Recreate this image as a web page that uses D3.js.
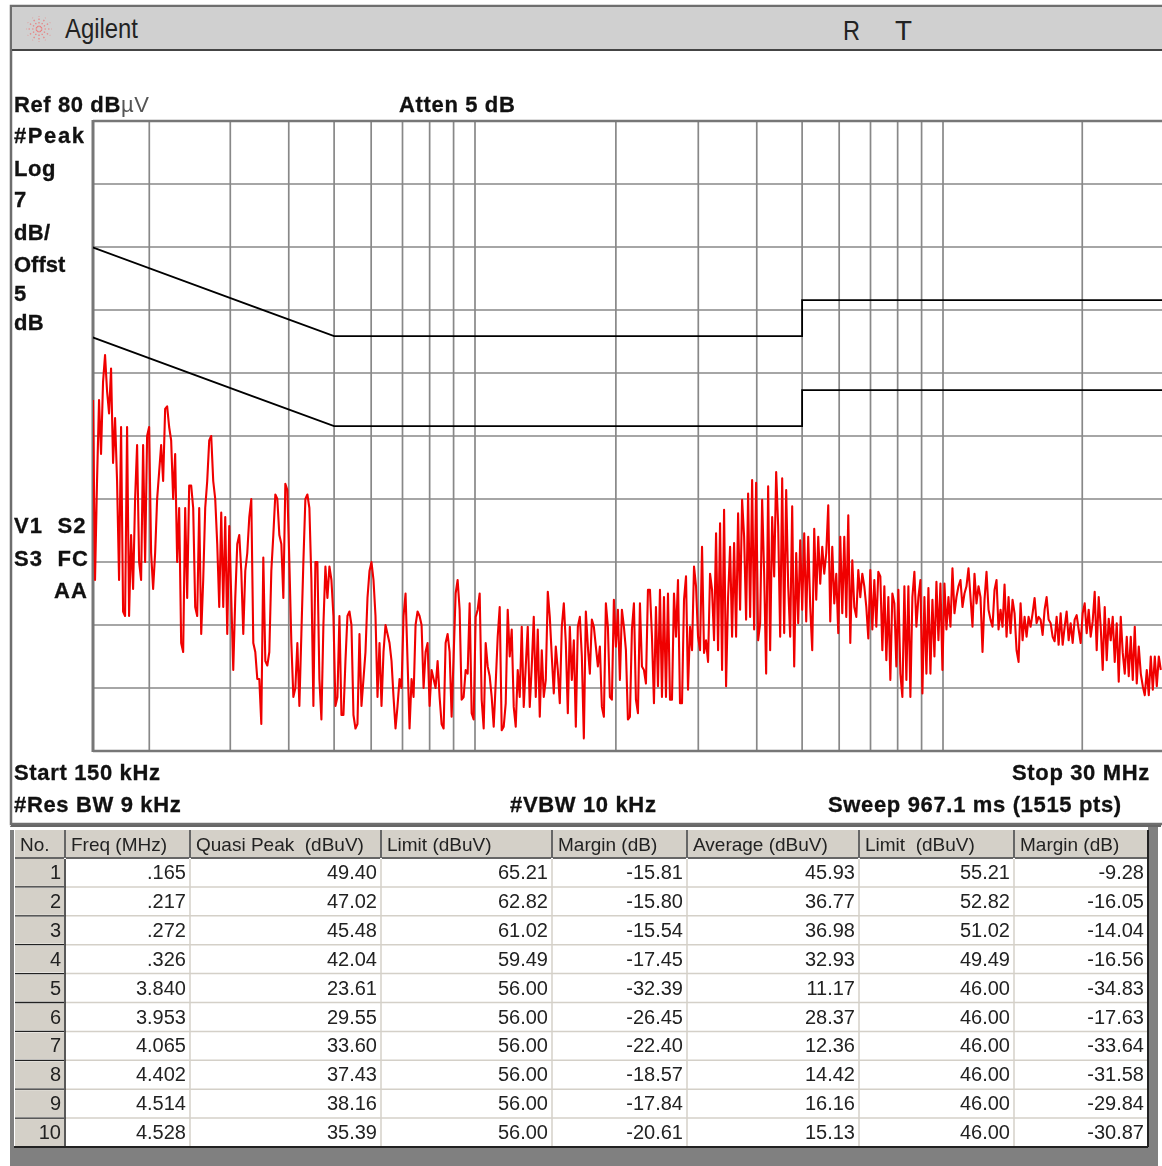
<!DOCTYPE html>
<html>
<head>
<meta charset="utf-8">
<script src="https://cdnjs.cloudflare.com/ajax/libs/d3/7.8.5/d3.min.js"></script>
<style>
html, body { margin: 0; padding: 0; background: #fff; overflow: hidden; }
svg { display: block; filter: blur(0.45px); }
.bold { font-family: "Liberation Sans", Arial, sans-serif; font-weight: bold; font-size: 22px; fill: #111; stroke: #111; stroke-width: 0.3px; }
.cell { font-family: "Liberation Sans", Arial, sans-serif; font-size: 20px; fill: #222; }
.headtext { font-size: 19px; }
.title { font-family: "Liberation Sans", Arial, sans-serif; font-size: 28px; fill: #222; }
</style>
</head>
<body>
<div id="chart"></div>
<script>
//spectrum analyser settings
var startMHz = 0.15, stopMHz = 30;
var refLevel = 80, dbPerDiv = 7, divisions = 10;
var gridFreqs = [0.2014, 0.3, 0.4, 0.5, 0.6, 0.7, 0.8, 0.9, 1, 2, 3, 4, 5, 6, 7, 8, 9, 10, 19.84];

//limit lines, dBuV
var limitFreqs = [0.15, 0.5, 5, 5, 30];
var quasiPeakLimit = [66, 56, 56, 60, 60];
var averageLimit = [56, 46, 46, 50, 50];

//trace, one value per step of a log-spaced sweep
var traceFirstMHz = 0.1527, traceLastMHz = 29.2;
var traceLow = [
	49,29,40,49,43,51,54,50,47.5,52.5,42,47,40,29,46,25.5,25,46,25,34,28,38,44,31,29,44,31,45,46,32,
	28,32,38,41,44,40,48,48.3,46,44.5,38,43,31,37,22,21,37,27,39.5,39.5,37,26,25,37,23,29,37,40,44.5,45,
	40,38,33,26,36.5,26,36,23,35,27,19,27,33,34,30,23,30,32,36,38,22,21,18,18,13,31.5,20,19.5,21,30,
	34,38.5,38,34,33,27,39.7,39,31,22,16,17,22,15,23,31,38,38.5,37,29,15,31,31,18,13.5,24,30.5,27,30.5,29,
	25,15,16,25,14,14,20,25,25.5,24,14,12.5,13,23,15,18,21,27,30,31,29,25,16,22,15,21,24,23,22,20,
	16,12.5,15,18,17,25,27.5,20,12.5,18,16,24,25.5,25,24,17,21,22,15,19,18,17,20,16,13,12.5,22,23,21
];
var traceMid = [
	13.8,20.5,27.5,29,25.7,15.7,16,19,18.6,26.4,14.2,13.5,24.9,25.7,27.5,15.7,12.5,22,19.4,18.3,16,12.7,17.5,22.7,26,12.3,12.7,15.3,25.7,20.5,
	23.5,14.9,12.7,19,16,23.8,14.9,19.4,23.8,14.9,19.4,24.9,16,23.5,13.8,21.2,16,17.9,27.7,24.9,20.5,16.4,21.6,19,15.3,23.8,26.4,22,14.2,23.8,
	17.9,22.3,12.7,23.8,24.9,20.5,11.4,25.5,21.6,18.6,24.6,23.8,21.6,19.4,21.6,14.9,13.8,26.4,23.8,16,15.7,26.8,21.6,25.7,17.9,25.7,23.8,21.2,13.5,13.8,
	23.5,26.4,15.7,14.2,26.4,19.4,19,17.5,27.9,27.9,22.7,15.3,26,17.2,27.9,16,27.1,16,27.5,15.7,15.7,27.5,22.7,29,15.3,15.3,26.8,29.4,16.8,23.8,21.2,30.5,
	28.3,22.7,21.2,32.7,20.9,22.3,19.9,29.7,27.9,22.3,34.2,21.2,35.3,19,36.8,17.2,27.1,32.7,22.7,33.1,22.7,36.4,25.7,37.9,33.8,24.6,38.6,24.9,40.1,23.5,
	39.8,22.3,24.2,37.9,29.7,18.6,39.4,21.2,36,29.4,41,35,22.7,40.3,23.1,39,28.3,22.7,37.2,19.4,32,24.2
];
var traceHigh = [
	33.4,25.7,34.2,24.4,33.8,26,21.2,34.7,26.8,33.8,28.6,32.7,29.7,32,37.3,24.4,32.7,26.4,29.7,23.1,33.8,25.3,33.8,24.9,36.2,22,31.2,26,24.9,30.1,
	27.1,29.7,28.3,26,22.5,30.1,23.5,29,23.8,29.9,29.4,21.2,28.3,20.1,27.1,17.9,27.5,26.4,19.4,27.9,18.6,16,28.3,17.9,28.3,16,27.1,29.9,23.8,27.1,
	29,16.4,27.1,18.6,28.1,18.6,26.8,20.5,28.8,22.3,28.6,19,28.6,23.5,27.1,23.8,30.3,25.3,27.1,28.3,29,26,27.5,28.3,30.3,27.1,23.8,29.7,26.4,28.3,
	27.1,21,26.8,29.9,25.7,24.6,23.8,27.9,29,23.5,25.7,23.8,28.5,22.7,27.1,23.1,26.8,25.3,21.2,19.9,26.4,22.3,24.9,22.7,24.9,23.8,25.3,27,24.2,24.9,
	24.6,22.9,25.7,27.1,24.6,24.2,22.7,22.2,24.9,21.8,25.3,21.8,23.8,25.5,22.3,24.2,22,24.6,25.1,23.5,22,25.3,26.4,23.1,25.7,22.7,24.4,27.7,21.2,27.1,
	23.8,19,26,20.1,24.7,22.3,24.9,19.9,24.2,17.7,24.9,20.9,18.6,22.7,18.3,22.7,17.9,23.8,17.5,21.6,18.6,17.2,16.2,19,16.2,20.5,16.8,20.5,17.2,20.5,19
];
var traceDb = traceLow.concat(traceMid, traceHigh);

//side and footer annotations
var sideLabels = ["#Peak", "Log", "7", "dB/", "Offst", "5", "dB", "V1  S2", "S3  FC", "AA"];
var sideLabelX = [14, 14, 14, 14, 14, 14, 14, 14, 14, 54];
var sideLabelY = [143, 176, 207, 240, 272, 301, 330, 533, 566, 598];
var sideSpacing = [1.6, 0.6, 0, 0.3, 0, 0, 0.3, 1.1, 1.1, 1.1];
var footLabels = ["Atten 5 dB", "Start 150 kHz", "Stop 30 MHz", "#Res BW 9 kHz", "#VBW 10 kHz", "Sweep 967.1 ms (1515 pts)"];
var footLabelX = [399, 14, 1012, 14, 510, 828];
var footLabelY = [112, 780, 780, 812, 812, 812];

//table of measured peaks
var tableHeaders = ["No.", "Freq (MHz)", "Quasi Peak  (dBuV)", "Limit (dBuV)", "Margin (dB)", "Average (dBuV)", "Limit  (dBuV)", "Margin (dB)"];
var rowNumbers = ["1", "2", "3", "4", "5", "6", "7", "8", "9", "10"];
var freqCol = [".165", ".217", ".272", ".326", "3.840", "3.953", "4.065", "4.402", "4.514", "4.528"];
var quasiCol = ["49.40", "47.02", "45.48", "42.04", "23.61", "29.55", "33.60", "37.43", "38.16", "35.39"];
var quasiLimitCol = ["65.21", "62.82", "61.02", "59.49", "56.00", "56.00", "56.00", "56.00", "56.00", "56.00"];
var quasiMarginCol = ["-15.81", "-15.80", "-15.54", "-17.45", "-32.39", "-26.45", "-22.40", "-18.57", "-17.84", "-20.61"];
var averageCol = ["45.93", "36.77", "36.98", "32.93", "11.17", "28.37", "12.36", "14.42", "16.16", "15.13"];
var averageLimitCol = ["55.21", "52.82", "51.02", "49.49", "46.00", "46.00", "46.00", "46.00", "46.00", "46.00"];
var averageMarginCol = ["-9.28", "-16.05", "-14.04", "-16.56", "-34.83", "-17.63", "-33.64", "-31.58", "-29.84", "-30.87"];
var tableCols = [rowNumbers, freqCol, quasiCol, quasiLimitCol, quasiMarginCol, averageCol, averageLimitCol, averageMarginCol];

var width = 1162, height = 1166;
var plot = {left: 93, top: 121, right: 1162, bottom: 751};
var colEdges = [14, 65, 190, 381, 552, 687, 859, 1014, 1148];

var svg = d3.select("#chart").append("svg")
	.attr("width", width)
	.attr("height", height);

//window frame
svg.append("rect").attr("x", 11).attr("y", 6).attr("width", width).attr("height", 818)
	.attr("fill", "#fff").attr("stroke", "#6e6e6e").attr("stroke-width", 2.5);
svg.append("rect").attr("x", 12).attr("y", 7).attr("width", width).attr("height", 42).attr("fill", "#d0d0d0");
svg.append("line").attr("x1", 12).attr("x2", width).attr("y1", 50).attr("y2", 50)
	.attr("stroke", "#444").attr("stroke-width", 2);

//agilent spark
var sparkAngles = d3.range(0, 360, 30);
var spark = svg.append("g").attr("transform", "translate(39,29)");
spark.selectAll("line")
	.data(sparkAngles)
	.enter()
	.append("line")
		.attr("x1", function(d){ return 2 * Math.cos(d * Math.PI / 180); })
		.attr("y1", function(d){ return 2 * Math.sin(d * Math.PI / 180); })
		.attr("x2", function(d){ return 13 * Math.cos(d * Math.PI / 180); })
		.attr("y2", function(d){ return 13 * Math.sin(d * Math.PI / 180); })
		.attr("stroke", "#e88080")
		.attr("stroke-width", 1.2)
		.attr("stroke-dasharray", "1.5,2");

svg.append("text").attr("class", "title").attr("x", 65).attr("y", 38).attr("textLength", 73).attr("lengthAdjust", "spacingAndGlyphs").text("Agilent");
svg.append("text").attr("class", "title").attr("x", 843).attr("y", 40).attr("textLength", 17).attr("lengthAdjust", "spacingAndGlyphs").text("R");
svg.append("text").attr("class", "title").attr("x", 895).attr("y", 40).attr("textLength", 17).attr("lengthAdjust", "spacingAndGlyphs").text("T");

//scales
var x = d3.scaleLog().domain([startMHz, stopMHz]).range([89.4, 1166.3]);
var y = d3.scaleLinear().domain([refLevel - dbPerDiv * divisions, refLevel]).range([plot.bottom, plot.top]);
var yTicks = d3.range(refLevel - dbPerDiv * divisions, refLevel + 1, dbPerDiv);

//grid
var grid = svg.append("g").attr("stroke", "#888").attr("stroke-width", 1.7);
grid.selectAll(".vgrid")
	.data(gridFreqs)
	.enter()
	.append("line")
		.attr("class", "vgrid")
		.attr("x1", function(d){ return x(d); })
		.attr("x2", function(d){ return x(d); })
		.attr("y1", plot.top)
		.attr("y2", plot.bottom);
grid.selectAll(".hgrid")
	.data(yTicks)
	.enter()
	.append("line")
		.attr("class", "hgrid")
		.attr("x1", plot.left)
		.attr("x2", plot.right)
		.attr("y1", function(d){ return y(d); })
		.attr("y2", function(d){ return y(d); });

svg.append("line").attr("x1", plot.left).attr("x2", plot.left).attr("y1", plot.top - 1).attr("y2", plot.bottom + 1)
	.attr("stroke", "#777").attr("stroke-width", 3);
svg.append("line").attr("x1", plot.left).attr("x2", plot.right).attr("y1", plot.top).attr("y2", plot.top)
	.attr("stroke", "#777").attr("stroke-width", 2.5);
svg.append("line").attr("x1", plot.left).attr("x2", plot.right).attr("y1", plot.bottom).attr("y2", plot.bottom)
	.attr("stroke", "#777").attr("stroke-width", 2.5);

svg.append("clipPath").attr("id", "plot-clip")
	.append("rect")
		.attr("x", plot.left)
		.attr("y", plot.top)
		.attr("width", plot.right - plot.left)
		.attr("height", plot.bottom - plot.top);

var plotArea = svg.append("g").attr("clip-path", "url(#plot-clip)");

//limit lines
var limitLine = d3.line()
	.x(function(d){ return x(d[0]); })
	.y(function(d){ return y(d[1]); });
[quasiPeakLimit, averageLimit].forEach(function(limit){
	plotArea.append("path")
		.attr("d", limitLine(d3.zip(limitFreqs, limit)))
		.attr("transform", "translate(0,-0.8)")
		.attr("fill", "none")
		.attr("stroke", "#000")
		.attr("stroke-width", 1.8);
});

//trace
var traceStep = Math.log(traceLastMHz / traceFirstMHz) / (traceDb.length - 1);
var traceLine = d3.line()
	.x(function(d, i){ return x(traceFirstMHz * Math.exp(traceStep * i)); })
	.y(function(d){ return y(d); });
plotArea.append("path")
	.attr("d", traceLine(traceDb))
	.attr("fill", "none")
	.attr("stroke", "#f00000")
	.attr("stroke-width", 2.1)
	.attr("stroke-linejoin", "round");

//text round the plot
var refText = svg.append("text").attr("class", "bold").attr("x", 14).attr("y", 112).style("letter-spacing", "0.6px");
refText.append("tspan").text("Ref 80 dB");
refText.append("tspan").text("µV").style("font-weight", "normal").style("fill", "#555").style("stroke", "none");

svg.selectAll(".side")
	.data(sideLabels)
	.enter()
	.append("text")
		.attr("class", "bold side")
		.attr("xml:space", "preserve")
		.attr("x", function(d, i){ return sideLabelX[i]; })
		.attr("y", function(d, i){ return sideLabelY[i]; })
		.style("letter-spacing", function(d, i){ return sideSpacing[i] + "px"; })
		.text(function(d){ return d; });

svg.selectAll(".foot")
	.data(footLabels)
	.enter()
	.append("text")
		.attr("class", "bold foot")
		.attr("x", function(d, i){ return footLabelX[i]; })
		.attr("y", function(d, i){ return footLabelY[i]; })
		.style("letter-spacing", "0.65px")
		.text(function(d){ return d; });

//table
svg.append("rect").attr("x", 10).attr("y", 826).attr("width", 1148).attr("height", height - 826).attr("fill", "#808080");
svg.append("rect").attr("x", 11).attr("y", 825).attr("width", 1150).attr("height", 2).attr("fill", "#666");
svg.append("rect").attr("x", 10).attr("y", 827).attr("width", 1138).attr("height", 3).attr("fill", "#fff");

var rowY = d3.scaleBand().domain(rowNumbers).range([858, 1147]);
var rowH = rowY.bandwidth();

svg.append("rect").attr("x", colEdges[0]).attr("y", 830)
	.attr("width", colEdges[8] - colEdges[0]).attr("height", 1147 - 830)
	.attr("fill", "#fff");

//header cells
var headCells = svg.selectAll(".head")
	.data(tableHeaders)
	.enter()
	.append("g")
		.attr("class", "head");
headCells.append("rect")
	.attr("x", function(d, i){ return colEdges[i] + 1; })
	.attr("y", 830)
	.attr("width", function(d, i){ return colEdges[i + 1] - colEdges[i] - 2; })
	.attr("height", 27)
	.attr("fill", "#d4d0c8");
headCells.append("line")
	.attr("x1", function(d, i){ return colEdges[i] + 1; })
	.attr("x2", function(d, i){ return colEdges[i + 1] - 1; })
	.attr("y1", 858)
	.attr("y2", 858)
	.attr("stroke", "#333")
	.attr("stroke-width", 1.5);
headCells.append("line")
	.attr("x1", function(d, i){ return colEdges[i + 1]; })
	.attr("x2", function(d, i){ return colEdges[i + 1]; })
	.attr("y1", 830)
	.attr("y2", 858)
	.attr("stroke", "#333")
	.attr("stroke-width", 1.5);
headCells.append("text")
	.attr("class", "cell headtext")
	.attr("xml:space", "preserve")
	.attr("x", function(d, i){ return colEdges[i] + 6; })
	.attr("y", 851)
	.text(function(d){ return d; });

//row number cells and cell borders
svg.selectAll(".rowhead")
	.data(rowNumbers)
	.enter()
	.append("rect")
		.attr("class", "rowhead")
		.attr("x", colEdges[0] + 1)
		.attr("y", function(d){ return rowY(d) + 1; })
		.attr("width", colEdges[1] - colEdges[0] - 2)
		.attr("height", rowH - 2)
		.attr("fill", "#d4d0c8");
svg.selectAll(".rowline")
	.data(rowNumbers)
	.enter()
	.append("line")
		.attr("class", "rowline")
		.attr("x1", colEdges[1])
		.attr("x2", colEdges[8])
		.attr("y1", function(d){ return rowY(d) + rowH; })
		.attr("y2", function(d){ return rowY(d) + rowH; })
		.attr("stroke", "#d4d0c8")
		.attr("stroke-width", 1.5);
svg.selectAll(".rowdark")
	.data(rowNumbers)
	.enter()
	.append("line")
		.attr("class", "rowdark")
		.attr("x1", colEdges[0] + 1)
		.attr("x2", colEdges[1] - 1)
		.attr("y1", function(d){ return rowY(d) + rowH; })
		.attr("y2", function(d){ return rowY(d) + rowH; })
		.attr("stroke", "#222")
		.attr("stroke-width", 1.3);
svg.selectAll(".colline")
	.data(colEdges.slice(2, 8))
	.enter()
	.append("line")
		.attr("class", "colline")
		.attr("x1", function(d){ return d; })
		.attr("x2", function(d){ return d; })
		.attr("y1", 859)
		.attr("y2", 1147)
		.attr("stroke", "#d4d0c8")
		.attr("stroke-width", 1.5);
svg.append("line").attr("x1", colEdges[1]).attr("x2", colEdges[1]).attr("y1", 859).attr("y2", 1147)
	.attr("stroke", "#222").attr("stroke-width", 1.5);

tableCols.forEach(function(col, c){
	svg.selectAll(".col" + c)
		.data(col)
		.enter()
		.append("text")
			.attr("class", "cell col" + c)
			.attr("text-anchor", "end")
			.attr("x", colEdges[c + 1] - 4)
			.attr("y", function(d, i){ return rowY(rowNumbers[i]) + 21; })
			.text(function(d){ return d; });
});

//dark edge of the table
svg.append("line").attr("x1", colEdges[8]).attr("x2", colEdges[8]).attr("y1", 830).attr("y2", 1147)
	.attr("stroke", "#222").attr("stroke-width", 2);
svg.append("line").attr("x1", colEdges[0]).attr("x2", colEdges[8]).attr("y1", 1147).attr("y2", 1147)
	.attr("stroke", "#222").attr("stroke-width", 2);
</script>
</body>
</html>
